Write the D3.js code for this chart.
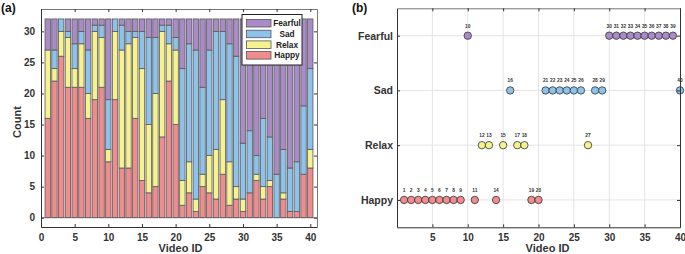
<!DOCTYPE html>
<html><head><meta charset="utf-8">
<script src="https://cdn.jsdelivr.net/npm/d3@7"></script>
<style>
body{margin:0;background:#fff}
svg{display:block}
text{font-family:"Liberation Sans",Arial,Helvetica,sans-serif}
</style>
</head><body>
<svg id="c" width="685" height="254"></svg>
<script>
// ---------- data ----------
const videoIds = [1,2,3,4,5,6,7,8,9,10,11,12,13,14,15,16,17,18,19,20,21,22,23,24,25,26,27,28,29,30,31,32,33,34,35,36,37,38,39,40];
const emotions = ["Happy","Relax","Sad","Fearful"];
const happy   = [16,22,26,21,21,21,16,19,21, 9,19, 8, 8,16, 6, 4, 5,13,22,15, 2, 4, 1, 5, 4, 3, 7, 2, 3, 1, 4, 6, 3, 5, 0, 3, 1, 1, 7, 8];
const relax   = [11, 2, 4, 8, 3, 7, 4,11, 8, 2,11,19,20,13,18,11,15,17, 6,12, 4, 5, 2, 2, 6, 8,12, 7, 2, 2, 0, 1, 2, 1, 0, 1, 0, 0, 0, 3];
const sad     = [ 0, 3, 2, 1, 4, 2, 7, 1, 2, 8, 2, 4, 2, 1, 6,14, 9, 1, 3, 2,18,19,24,14,17,19,11,19,21, 9,10, 3,11, 7, 7, 7, 7, 8,11,13];
const fearful = [ 5, 5, 0, 2, 4, 2, 5, 1, 1,13, 0, 1, 2, 2, 2, 3, 3, 1, 1, 3, 8, 4, 5,11, 5, 2, 2, 4, 6,20,18,22,16,19,25,21,24,23,14, 8];
const xTicksA = [0,5,10,15,20,25,30,35,40];
const yTicksA = [0,5,10,15,20,25,30];
const legendOrder = ["Fearful","Sad","Relax","Happy"];

// dominant emotion per video (panel b)
const dotHappy   = [1,2,3,4,5,6,7,8,9,11,14,19,20];
const dotRelax   = [12,13,15,17,18,27];
const dotSad     = [16,21,22,23,24,25,26,28,29,40];
const dotFearful = [10,30,31,32,33,34,35,36,37,38,39];
const xTicksB = [5,10,15,20,25,30,35,40];
const gridB = [5,10,15,20,25,30,35];

const colors = {Happy:"#f08b8e", Relax:"#f6f28f", Sad:"#8dc2ea", Fearful:"#a98bc7"};

const svg = d3.select("#c");

// ---------- panel (a) ----------
const xa = d3.scaleLinear().domain([0,41]).range([41,317]);
const ya = d3.scaleLinear().domain([-1.5,33.6]).range([227,9]);

const rows = videoIds.map((id,i)=>({id, Happy:happy[i], Relax:relax[i], Sad:sad[i], Fearful:fearful[i]}));
const stacked = d3.stack().keys(emotions)(rows);

const ga = svg.append("g");
ga.selectAll("g.layer").data(stacked).join("g").attr("class","layer")
  .attr("fill", d=>colors[d.key])
  .selectAll("rect").data(d=>d.filter(s=>s[1]>s[0])).join("rect")
  .attr("x", d=>xa(d.data.id-0.4))
  .attr("width", xa(0.8)-xa(0))
  .attr("y", d=>ya(d[1]))
  .attr("height", d=>ya(d[0])-ya(d[1]))
  .attr("stroke","#5a5a5a").attr("stroke-width",0.8);

// baseline
ga.append("line").attr("x1",xa(0)).attr("x2",xa(41)).attr("y1",ya(0)).attr("y2",ya(0))
  .attr("stroke","#666").attr("stroke-width",0.8);

function styleAxis(g, fs){
  g.select(".domain").attr("stroke","#333").attr("stroke-width",1);
  g.selectAll(".tick line").attr("stroke","#333");
  g.selectAll(".tick text").attr("font-size",fs).attr("font-weight","bold").attr("fill","#333")
   .attr("font-family","'Liberation Sans',Arial,sans-serif");
}

const axBa = svg.append("g").attr("transform",`translate(0,${ya(-1.5)})`)
  .call(d3.axisBottom(xa).tickValues(xTicksA).tickSizeInner(-3).tickSizeOuter(0).tickPadding(7));
styleAxis(axBa, 10);
const axTa = svg.append("g").attr("transform",`translate(0,${ya(33.6)})`)
  .call(d3.axisTop(xa).tickValues(xTicksA).tickSizeInner(-3).tickSizeOuter(0).tickFormat(""));
styleAxis(axTa, 10); axTa.select(".domain").attr("stroke","#777");
const axLa = svg.append("g").attr("transform",`translate(${xa(0)},0)`)
  .call(d3.axisLeft(ya).tickValues(yTicksA).tickSizeInner(-3).tickSizeOuter(0).tickPadding(6));
styleAxis(axLa, 10);
const axRa = svg.append("g").attr("transform",`translate(${xa(41)},0)`)
  .call(d3.axisRight(ya).tickValues(yTicksA).tickSizeInner(-3).tickSizeOuter(0).tickFormat(""));
styleAxis(axRa, 10); axRa.select(".domain").attr("stroke","#777");

svg.append("text").attr("x",180.5).attr("y",252).attr("text-anchor","middle")
  .attr("font-size",11).attr("font-weight","bold").attr("fill","#333").text("Video ID");
svg.append("text").attr("transform","translate(21,122) rotate(-90)").attr("text-anchor","middle")
  .attr("font-size",11).attr("font-weight","bold").attr("fill","#333").text("Count");
svg.append("text").attr("x",1).attr("y",11.5).attr("font-size",12).attr("font-weight","bold").attr("fill","#111").text("(a)");

// legend
const lg = svg.append("g");
lg.append("rect").attr("x",242).attr("y",14.5).attr("width",60).attr("height",50.5)
  .attr("fill","#fff").attr("stroke","#222").attr("stroke-width",1);
legendOrder.forEach((k,i)=>{
  const yy = 19.5 + i*10.7;
  lg.append("rect").attr("x",246.5).attr("y",yy).attr("width",24.5).attr("height",7.5)
    .attr("fill",colors[k]).attr("stroke","#555").attr("stroke-width",0.8);
  lg.append("text").attr("x",287).attr("y",yy+6.6).attr("text-anchor","middle")
    .attr("font-size",8.3).attr("font-weight","bold").attr("fill","#222").text(k);
});

// ---------- panel (b) ----------
const xb = d3.scaleLinear().domain([0,40]).range([397,680]);
const yb = d3.scalePoint().domain(emotions).range([227.3,8.3]).padding(0.5);

const gb = svg.append("g");
gb.selectAll("line.vg").data(gridB).join("line").attr("class","vg")
  .attr("x1",d=>xb(d)).attr("x2",d=>xb(d)).attr("y1",8.3).attr("y2",227.3)
  .attr("stroke","#e4e4e4").attr("stroke-width",1);
gb.selectAll("line.hg").data(emotions).join("line").attr("class","hg")
  .attr("x1",xb(0)).attr("x2",xb(40)).attr("y1",d=>yb(d)).attr("y2",d=>yb(d))
  .attr("stroke","#e4e4e4").attr("stroke-width",1);

const axBb = svg.append("g").attr("transform",`translate(0,227.3)`)
  .call(d3.axisBottom(xb).tickValues(xTicksB).tickSizeInner(-3).tickSizeOuter(0).tickPadding(7));
styleAxis(axBb, 10);
const axTb = svg.append("g").attr("transform",`translate(0,8.3)`)
  .call(d3.axisTop(xb).tickValues(xTicksB).tickSizeInner(-3).tickSizeOuter(0).tickFormat(""));
styleAxis(axTb, 10); axTb.select(".domain").attr("stroke","#777");
const axLb = svg.append("g").attr("transform",`translate(${xb(0)},0)`)
  .call(d3.axisLeft(yb).tickSizeInner(-3).tickSizeOuter(0).tickPadding(4));
styleAxis(axLb, 10.5);
const axRb = svg.append("g").attr("transform",`translate(${xb(40)},0)`)
  .call(d3.axisRight(yb).tickSizeInner(-3).tickSizeOuter(0).tickFormat(""));
styleAxis(axRb, 10);

const dots = [].concat(
  dotHappy.map(v=>({v,e:"Happy"})),
  dotRelax.map(v=>({v,e:"Relax"})),
  dotSad.map(v=>({v,e:"Sad"})),
  dotFearful.map(v=>({v,e:"Fearful"})));

gb.selectAll("circle").data(dots).join("circle")
  .attr("cx",d=>xb(d.v)).attr("cy",d=>yb(d.e)).attr("r",3.7)
  .attr("fill",d=>colors[d.e]).attr("stroke","#333").attr("stroke-width",0.8);
gb.selectAll("text.lbl").data(dots).join("text").attr("class","lbl")
  .attr("x",d=>xb(d.v)).attr("y",d=>yb(d.e)-8).attr("text-anchor","middle")
  .attr("font-size",4.8).attr("font-weight","bold").attr("fill","#333").text(d=>d.v);

svg.append("text").attr("x",547.5).attr("y",252).attr("text-anchor","middle")
  .attr("font-size",11).attr("font-weight","bold").attr("fill","#333").text("Video ID");
svg.append("text").attr("x",352).attr("y",11.5).attr("font-size",12).attr("font-weight","bold").attr("fill","#111").text("(b)");
</script>
</body></html>
